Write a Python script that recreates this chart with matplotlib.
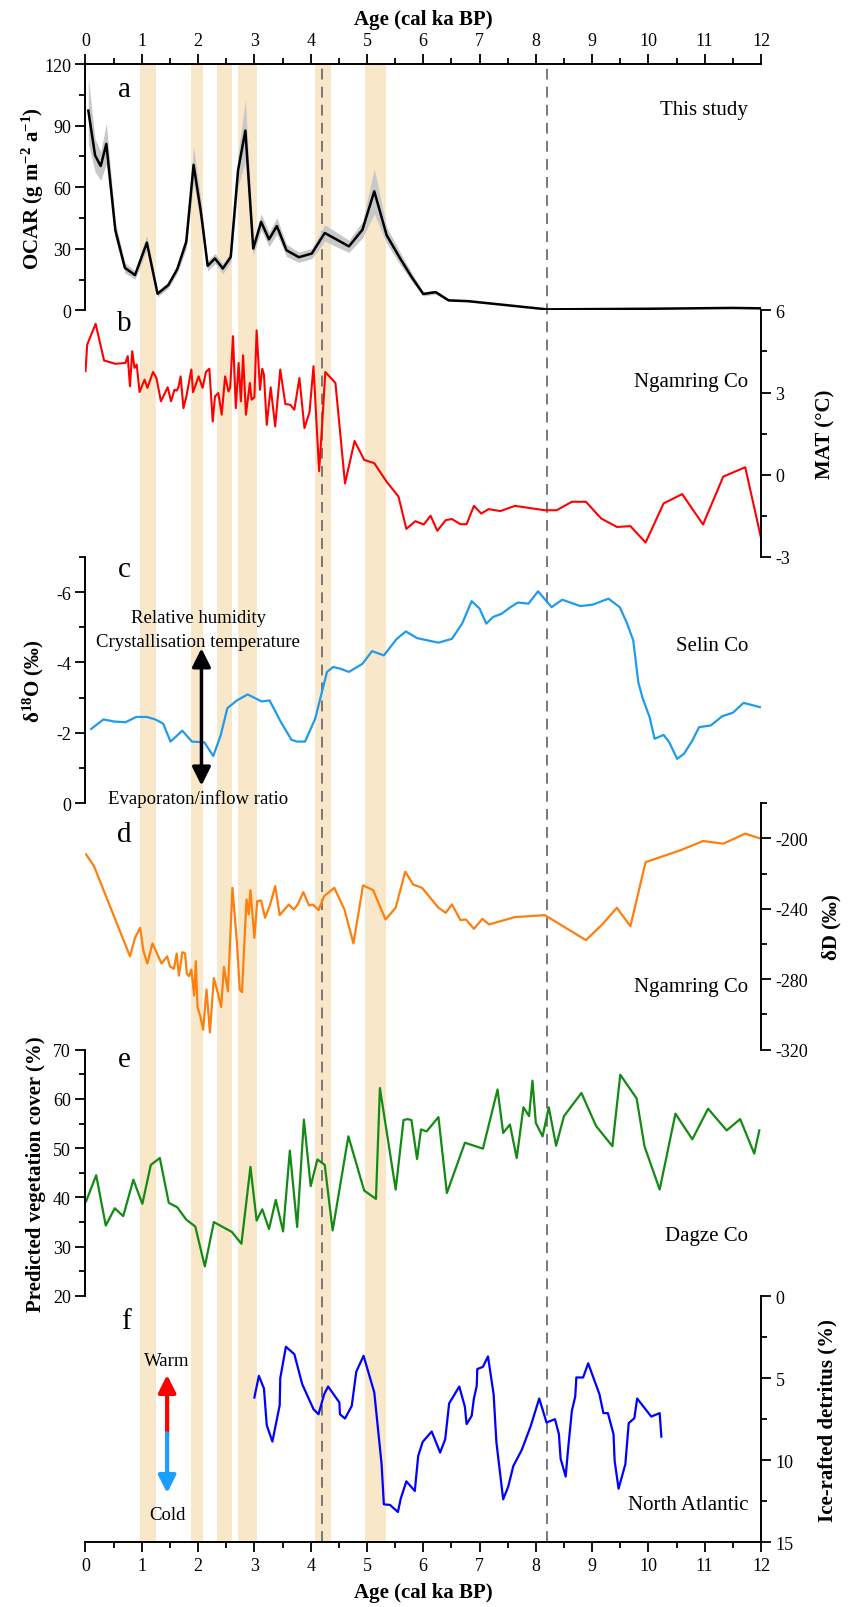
import matplotlib
matplotlib.use('Agg')
import matplotlib.pyplot as plt
from matplotlib.ticker import MultipleLocator

plt.rcParams['font.family'] = 'Liberation Serif'
plt.rcParams['mathtext.default'] = 'regular'
plt.rcParams['axes.unicode_minus'] = False

# a - OCAR (this study)
age_a = [0.05, 0.17, 0.27, 0.37, 0.53, 0.70, 0.88, 1.09, 1.28, 1.47, 1.63, 1.79, 1.92, 2.05, 2.17,
         2.30, 2.44, 2.58, 2.71, 2.84, 2.98, 3.12, 3.26, 3.40, 3.57, 3.79, 4.02, 4.25, 4.68, 4.92,
         5.13, 5.35, 5.59, 5.80, 6.00, 6.22, 6.45, 6.80, 8.20, 10.00, 11.50, 12.00]
ocar_a = [97.3, 75.5, 70.3, 81.1, 39.0, 20.7, 17.2, 33.0, 8.1, 12.3, 20.1, 33.4, 70.9, 47.9, 21.7,
          25.3, 20.4, 26.0, 68.2, 87.6, 30.1, 43.1, 34.6, 41.1, 29.3, 25.9, 27.7, 37.7, 31.2, 39.3,
          58.0, 36.6, 25.3, 16.0, 8.0, 8.9, 4.9, 4.5, 0.5, 0.8, 1.2, 1.0]
ocar_err = [16, 8, 7, 10, 4, 2.5, 2, 3.5, 1.5, 1.5, 2, 3.5, 9, 6, 2.5,
            2.5, 2.5, 2.5, 8, 15, 3.5, 4, 3.5, 4, 3, 2.5, 2.5, 4, 3, 4,
            11, 4, 3, 2, 1, 1, 0.5, 0.4, 0.1, 0.1, 0.1, 0.1]

# b - MAT, Ngamring Co
age_b = [0.0, 0.03, 0.18, 0.33, 0.53, 0.71, 0.75, 0.79, 0.83, 0.87, 0.91, 0.96, 1.05, 1.10, 1.20,
         1.26, 1.34, 1.46, 1.52, 1.58, 1.62, 1.65, 1.69, 1.74, 1.79, 1.88, 1.91, 2.01, 2.08, 2.14,
         2.20, 2.26, 2.30, 2.36, 2.42, 2.48, 2.54, 2.57, 2.62, 2.67, 2.72, 2.76, 2.80, 2.85, 2.92,
         2.95, 3.00, 3.04, 3.10, 3.14, 3.17, 3.22, 3.29, 3.37, 3.46, 3.55, 3.64, 3.71, 3.80, 3.89,
         3.98, 4.05, 4.15, 4.20, 4.26, 4.44, 4.61, 4.78, 4.95, 5.13, 5.35, 5.56, 5.70, 5.86, 6.01,
         6.13, 6.25, 6.40, 6.51, 6.66, 6.77, 6.90, 7.03, 7.16, 7.37, 7.63, 8.16, 8.37, 8.64, 8.89,
         9.16, 9.44, 9.68, 9.95, 10.27, 10.60, 10.97, 11.33, 11.72, 12.0]
mat_b = [3.78, 4.75, 5.51, 4.17, 4.05, 4.08, 4.33, 3.23, 4.51, 3.90, 4.02, 3.02, 3.47, 3.17, 3.75,
         3.53, 2.68, 3.19, 2.68, 3.10, 3.07, 3.19, 3.59, 2.43, 2.84, 3.84, 3.01, 3.59, 3.17, 3.75,
         3.87, 1.94, 2.86, 2.98, 2.19, 3.59, 3.04, 3.17, 5.06, 2.43, 4.08, 2.68, 4.36, 2.19, 3.35,
         2.74, 2.82, 5.27, 3.10, 3.87, 3.65, 1.82, 3.19, 1.76, 3.84, 2.58, 2.55, 2.37, 3.53, 1.70,
         2.29, 3.96, 0.13, 1.70, 3.75, 3.35, -0.32, 1.23, 0.54, 0.42, -0.26, -0.80, -1.98, -1.70, -1.82,
         -1.50, -2.05, -1.66, -1.62, -1.81, -1.81, -1.14, -1.42, -1.26, -1.33, -1.14, -1.30, -1.30, -0.99, -0.99,
         -1.60, -1.91, -1.88, -2.48, -1.05, -0.71, -1.82, -0.07, 0.27, -2.31]

# c - d18O, Selin Co
age_c = [0.10, 0.32, 0.51, 0.71, 0.90, 1.09, 1.24, 1.38, 1.51, 1.72, 1.89, 2.11, 2.27, 2.40, 2.52,
         2.69, 2.88, 3.13, 3.27, 3.48, 3.66, 3.76, 3.90, 4.08, 4.29, 4.40, 4.53, 4.68, 4.92, 5.09,
         5.30, 5.53, 5.69, 5.89, 6.27, 6.51, 6.69, 6.86, 7.00, 7.12, 7.24, 7.39, 7.55, 7.68, 7.87,
         8.04, 8.28, 8.47, 8.79, 9.01, 9.29, 9.49, 9.61, 9.73, 9.82, 9.90, 10.02, 10.11, 10.27, 10.37,
         10.51, 10.63, 10.77, 10.90, 11.11, 11.31, 11.50, 11.69, 11.98]
d18o_c = [-2.11, -2.38, -2.32, -2.30, -2.45, -2.45, -2.38, -2.26, -1.75, -2.06, -1.75, -1.73, -1.34, -1.92, -2.70,
          -2.92, -3.09, -2.89, -2.92, -2.28, -1.80, -1.75, -1.75, -2.40, -3.73, -3.87, -3.82, -3.73, -3.96, -4.32,
          -4.20, -4.67, -4.88, -4.69, -4.56, -4.67, -5.10, -5.74, -5.53, -5.10, -5.29, -5.38, -5.57, -5.70, -5.67,
          -6.02, -5.57, -5.78, -5.60, -5.64, -5.81, -5.57, -5.15, -4.63, -3.44, -2.97, -2.45, -1.83, -1.94, -1.73,
          -1.26, -1.40, -1.75, -2.16, -2.21, -2.47, -2.57, -2.85, -2.73]

# d - dD, Ngamring Co
age_d = [0.01, 0.15, 0.79, 0.88, 0.97, 1.03, 1.10, 1.19, 1.35, 1.45, 1.50, 1.57, 1.62, 1.66, 1.72,
         1.77, 1.80, 1.84, 1.88, 1.93, 1.96, 1.99, 2.04, 2.09, 2.15, 2.21, 2.28, 2.35, 2.41, 2.46,
         2.53, 2.61, 2.69, 2.74, 2.78, 2.86, 2.90, 2.93, 3.00, 3.05, 3.12, 3.19, 3.28, 3.37, 3.45,
         3.61, 3.70, 3.77, 3.87, 3.97, 4.04, 4.14, 4.24, 4.42, 4.60, 4.76, 4.93, 5.11, 5.33, 5.51,
         5.68, 5.82, 5.98, 6.27, 6.40, 6.51, 6.66, 6.76, 6.90, 7.05, 7.17, 7.63, 8.16, 8.89, 9.18,
         9.44, 9.68, 9.95, 10.58, 10.97, 11.33, 11.72, 12.0]
dD_d = [-209.1, -215.7, -267.0, -256.5, -250.8, -264.1, -271.1, -259.7, -271.1, -267.0, -272.7, -274.1, -265.4, -278.0, -264.7,
        -265.4, -276.8, -278.3, -274.5, -289.3, -269.8, -296.0, -301.1, -308.7, -285.9, -310.2, -279.3, -287.8, -295.8, -273.0,
        -286.9, -228.1, -259.0, -285.9, -287.4, -234.7, -243.2, -229.4, -256.5, -235.7, -235.3, -245.1, -237.6, -227.1, -243.6,
        -237.6, -240.4, -237.6, -230.5, -238.1, -237.6, -240.8, -232.8, -228.1, -240.4, -259.7, -226.7, -229.4, -246.1, -239.4,
        -218.9, -226.2, -228.1, -239.4, -242.3, -237.5, -246.4, -246.1, -251.4, -245.7, -248.9, -244.7, -243.6, -257.8, -248.9,
        -239.4, -249.9, -213.5, -206.6, -201.5, -203.0, -197.3, -200.2]

# e - vegetation cover, Dagze Co
age_e = [0.01, 0.19, 0.36, 0.52, 0.67, 0.85, 1.01, 1.16, 1.32, 1.48, 1.63, 1.79, 1.95, 2.12, 2.28,
         2.44, 2.60, 2.77, 2.93, 3.04, 3.14, 3.26, 3.38, 3.51, 3.63, 3.76, 3.88, 4.00, 4.12, 4.25,
         4.39, 4.67, 4.95, 5.16, 5.23, 5.51, 5.65, 5.72, 5.79, 5.89, 5.96, 6.06, 6.27, 6.42, 6.74,
         7.06, 7.32, 7.42, 7.54, 7.66, 7.78, 7.88, 7.94, 8.00, 8.12, 8.23, 8.36, 8.50, 8.81, 9.07,
         9.36, 9.50, 9.79, 9.93, 10.20, 10.48, 10.78, 11.06, 11.39, 11.63, 11.88, 11.97]
veg_e = [39.2, 44.5, 34.3, 37.8, 36.2, 43.6, 38.7, 46.6, 48.0, 38.9, 38.0, 35.5, 34.1, 26.0, 35.0,
         34.0, 33.0, 30.6, 46.2, 35.3, 37.6, 33.6, 39.5, 33.1, 49.5, 34.0, 55.8, 42.3, 47.7, 46.6,
         33.3, 52.4, 41.4, 39.7, 62.2, 41.6, 55.7, 55.9, 55.7, 47.8, 53.8, 53.4, 56.3, 40.9, 51.1,
         49.9, 61.9, 53.1, 54.8, 48.0, 58.3, 56.5, 63.7, 55.1, 52.4, 58.3, 50.5, 56.5, 61.2, 54.5,
         50.4, 64.9, 60.1, 50.4, 41.6, 57.0, 51.8, 58.0, 53.6, 55.9, 48.9, 53.6]

# f - ice-rafted detritus, North Atlantic
age_f = [3.00, 3.08, 3.17, 3.22, 3.32, 3.45, 3.46, 3.56, 3.71, 3.85, 4.05, 4.14, 4.24, 4.31, 4.51,
         4.52, 4.61, 4.73, 4.81, 4.94, 5.13, 5.26, 5.30, 5.41, 5.55, 5.60, 5.70, 5.85, 5.91, 5.99,
         6.15, 6.30, 6.39, 6.46, 6.64, 6.74, 6.77, 6.86, 6.90, 6.95, 6.96, 7.06, 7.15, 7.25, 7.30,
         7.42, 7.51, 7.60, 7.75, 7.91, 8.06, 8.19, 8.34, 8.41, 8.44, 8.53, 8.57, 8.64, 8.70, 8.72,
         8.84, 8.93, 9.13, 9.20, 9.28, 9.38, 9.40, 9.47, 9.59, 9.65, 9.75, 9.80, 10.05, 10.20, 10.23]
ird_f = [6.18, 4.86, 5.63, 7.87, 8.86, 6.65, 5.00, 3.09, 3.54, 5.37, 6.89, 7.20, 5.98, 5.51, 6.48,
         7.20, 7.46, 6.69, 4.61, 3.64, 5.87, 10.24, 12.68, 12.72, 13.15, 12.34, 11.28, 11.87, 9.74, 8.88,
         8.25, 9.53, 8.72, 6.54, 5.51, 6.75, 7.80, 7.30, 6.24, 5.47, 4.45, 4.31, 3.68, 5.98, 8.92,
         12.38, 11.60, 10.35, 9.37, 7.91, 6.24, 7.70, 7.50, 8.41, 9.90, 10.99, 9.43, 6.99, 6.12, 4.96,
         4.96, 4.10, 5.98, 7.13, 7.13, 8.41, 10.04, 11.73, 10.24, 7.74, 7.44, 6.24, 7.34, 7.13, 8.56]

# shaded intervals and dashed events (ka)
bands = [(0.97, 1.26), (1.88, 2.09), (2.33, 2.60), (2.71, 3.04), (4.07, 4.36), (4.97, 5.33)]
events = [4.2, 8.2]

W_PX, H_PX = 853, 1608
fig = plt.figure(figsize=(W_PX / 100, H_PX / 100), dpi=100)

left = 85.5 / W_PX
width = (761 - 85.5) / W_PX
top_px = 65
panel_px = 246.4
n = 6

bg = fig.add_axes([left, 1 - (top_px + n * panel_px) / H_PX, width, n * panel_px / H_PX])
bg.set_xlim(0, 12)
bg.set_ylim(0, 1)
bg.axis('off')
for b0, b1 in bands:
    bg.axvspan(b0, b1, color='#f8e8c9', lw=0)
for ev in events:
    bg.axvline(ev, color='#6e6e6e', lw=1.3, ls=(0, (6, 4)))

axes = []
for i in range(n):
    bottom = 1 - (top_px + (i + 1) * panel_px) / H_PX
    ax = fig.add_axes([left, bottom, width, panel_px / H_PX])
    ax.set_facecolor('none')
    ax.set_xlim(0, 12)
    for s in ax.spines.values():
        s.set_visible(False)
    ax.tick_params(axis='x', which='both', bottom=False, top=False, labelbottom=False, labeltop=False)
    axes.append(ax)

sides = ['left', 'right', 'left', 'right', 'left', 'right']
for ax, side in zip(axes, sides):
    ax.spines[side].set_visible(True)
    ax.spines[side].set_linewidth(1.4)
    ax.tick_params(axis='y', which='both', direction='out', width=1.3,
                   left=(side == 'left'), labelleft=(side == 'left'),
                   right=(side == 'right'), labelright=(side == 'right'), labelsize=13)
    ax.tick_params(axis='y', which='major', length=7)
    ax.tick_params(axis='y', which='minor', length=4)
    if side == 'right':
        ax.yaxis.set_label_position('right')

# x axes: top of a, bottom of f
for ax, pos in [(axes[0], 'top'), (axes[5], 'bottom')]:
    ax.spines[pos].set_visible(True)
    ax.spines[pos].set_linewidth(1.4)
    ax.xaxis.set_major_locator(MultipleLocator(1))
    ax.xaxis.set_minor_locator(MultipleLocator(0.5))
    if pos == 'top':
        ax.tick_params(axis='x', which='both', top=True, labeltop=True, direction='out', width=1.3, labelsize=13)
        ax.xaxis.set_label_position('top')
    else:
        ax.tick_params(axis='x', which='both', bottom=True, labelbottom=True, direction='out', width=1.3, labelsize=13)
    ax.tick_params(axis='x', which='major', length=7)
    ax.tick_params(axis='x', which='minor', length=4)
    ax.set_xlabel('Age (cal ka BP)', fontsize=15, fontweight='bold', labelpad=6)

lab_kw = dict(fontsize=15, fontweight='bold')
txt_kw = dict(fontsize=15, ha='right', va='center')
letter_kw = dict(fontsize=21, ha='center', va='center')

# a
ax = axes[0]
lo = [v - e for v, e in zip(ocar_a, ocar_err)]
hi = [v + e for v, e in zip(ocar_a, ocar_err)]
ax.fill_between(age_a, lo, hi, color='#c8c8c8', lw=0)
ax.plot(age_a, ocar_a, color='black', lw=1.8)
ax.set_ylim(0, 120)
ax.yaxis.set_major_locator(MultipleLocator(30))
ax.yaxis.set_minor_locator(MultipleLocator(15))
ax.set_ylabel('OCAR (g m$^{-2}$ a$^{-1}$)', **lab_kw)
ax.text(11.77, 98, 'This study', **txt_kw)
ax.text(0.69, 108, 'a', **letter_kw)

# b
ax = axes[1]
ax.plot(age_b, mat_b, color='#ff0000', lw=1.5)
ax.set_ylim(-3, 6)
ax.yaxis.set_major_locator(MultipleLocator(3))
ax.yaxis.set_minor_locator(MultipleLocator(1.5))
ax.set_ylabel('MAT (°C)', **lab_kw)
ax.text(11.77, 3.4, 'Ngamring Co', **txt_kw)
ax.text(0.69, 5.55, 'b', **letter_kw)

# c
ax = axes[2]
ax.plot(age_c, d18o_c, color='#1e9ceb', lw=1.6)
ax.set_ylim(0, -7)
ax.yaxis.set_major_locator(MultipleLocator(2))
ax.yaxis.set_minor_locator(MultipleLocator(1))
ax.set_ylabel('δ$^{18}$O (‰)', **lab_kw)
ax.text(11.77, -4.48, 'Selin Co', **txt_kw)
ax.text(0.69, -6.66, 'c', **letter_kw)
ax.annotate('', xy=(2.06, -4.4), xytext=(2.06, -0.5),
            arrowprops=dict(arrowstyle='<|-|>', color='black', lw=2.5, mutation_scale=28,
                            shrinkA=0, shrinkB=0))
ax.text(2.0, -5.28, 'Relative humidity', fontsize=13.5, ha='center', va='center')
ax.text(2.0, -4.6, 'Crystallisation temperature', fontsize=13.5, ha='center', va='center')
ax.text(2.0, -0.15, 'Evaporaton/inflow ratio', fontsize=13.5, ha='center', va='center')

# d
ax = axes[3]
ax.plot(age_d, dD_d, color='#ff7f0e', lw=1.6)
ax.set_ylim(-320, -180)
ax.yaxis.set_major_locator(MultipleLocator(40))
ax.yaxis.set_minor_locator(MultipleLocator(20))
ax.set_ylabel('δD (‰)', **lab_kw)
ax.text(11.77, -284, 'Ngamring Co', **txt_kw)
ax.text(0.69, -197.5, 'd', **letter_kw)

# e
ax = axes[4]
ax.plot(age_e, veg_e, color='#138a13', lw=1.6)
ax.set_ylim(20, 70)
ax.yaxis.set_major_locator(MultipleLocator(10))
ax.yaxis.set_minor_locator(MultipleLocator(5))
ax.set_ylabel('Predicted vegetation cover (%)', **lab_kw)
ax.text(11.77, 32.2, 'Dagze Co', **txt_kw)
ax.text(0.69, 68.0, 'e', **letter_kw)

# f
ax = axes[5]
ax.plot(age_f, ird_f, color='#0000ff', lw=1.6)
ax.set_ylim(15, 0)
ax.yaxis.set_major_locator(MultipleLocator(5))
ax.yaxis.set_minor_locator(MultipleLocator(2.5))
ax.set_ylabel('Ice-rafted detritus (%)', **lab_kw)
ax.text(11.77, 12.7, 'North Atlantic', **txt_kw)
ax.text(0.72, 1.5, 'f', **letter_kw)
ax.annotate('', xy=(1.45, 4.8), xytext=(1.45, 8.45),
            arrowprops=dict(arrowstyle='-|>', color='#ff0000', lw=3, mutation_scale=26,
                            shrinkA=0, shrinkB=0))
ax.annotate('', xy=(1.45, 12.0), xytext=(1.45, 8.35),
            arrowprops=dict(arrowstyle='-|>', color='#1a9fff', lw=3, mutation_scale=26,
                            shrinkA=0, shrinkB=0))
ax.text(1.45, 3.9, 'Warm', fontsize=13.5, ha='center', va='center')
ax.text(1.45, 13.3, 'Cold', fontsize=13.5, ha='center', va='center')

label_x = [-0.058, 1.080, -0.058, 1.090, -0.058, 1.083]
for ax, lx in zip(axes, label_x):
    ax.yaxis.set_label_coords(lx, 0.5)

fig.savefig('out.png', dpi=100)
